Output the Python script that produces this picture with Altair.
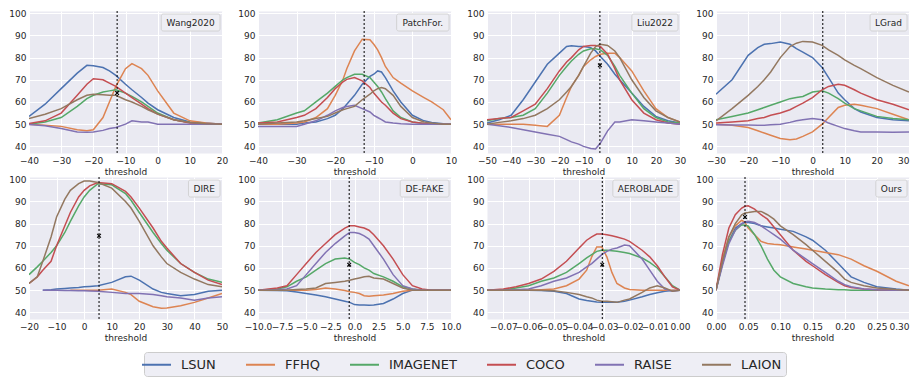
import altair as alt
import pandas as pd

DATASETS = ["LSUN", "FFHQ", "IMAGENET", "COCO", "RAISE", "LAION"]
COLORS = ["#4C72B0", "#DD8452", "#55A868", "#C44E52", "#8172B3", "#937860"]
Y_TICKS = [40, 50, 60, 70, 80, 90, 100]

# ---------------- Wang2020 ----------------
wang_x = [-40, -35, -30, -25, -22, -20, -17, -15, -13, -10, -8, -5, -3, 0, 5, 10, 15, 20]
wang = {
    "LSUN":     [53.5, 59, 66, 73, 76.5, 76.3, 75.5, 74, 72, 68, 65.5, 62, 59.5, 56.5, 53, 51, 50.5, 50],
    "FFHQ":     [50, 49.5, 49, 47.5, 47, 47.5, 53, 60, 67, 75, 77.3, 75, 72, 65, 55, 51.5, 50.5, 50],
    "IMAGENET": [50, 51, 53, 58, 61.5, 63, 64.5, 65, 65.5, 64, 62.5, 60, 58, 55, 52, 50.7, 50.2, 50],
    "COCO":     [50.3, 51.5, 55, 63, 68, 70.5, 70, 68.5, 67, 64, 62, 59, 57, 54.5, 52, 50.5, 50.2, 50],
    "RAISE":    [49.8, 49.3, 48, 46.5, 46.3, 46.5, 47.2, 48, 48.5, 50, 51.5, 51, 51, 50, 50, 50, 50, 50],
    "LAION":    [52.5, 54.5, 57, 61, 63, 63.5, 63.3, 63, 63, 61, 60, 58, 56.5, 54.5, 52, 50.7, 50.2, 50],
}

# ---------------- PatchFor. ----------------
patch_x = [-40, -35, -30, -28, -25, -22, -20, -18, -17, -15, -13, -11, -10, -9, -8, -7, -5, -3, 0, 3, 5, 8, 10]
patch = {
    "LSUN":     [50, 50, 50, 50.5, 51, 52.5, 54, 57, 59, 63, 68, 71.5, 72.5, 74, 73.5, 71, 65, 60, 54, 51.5, 50.8, 50.2, 50],
    "FFHQ":     [50, 50, 50.5, 51, 53, 57, 63, 70, 75, 83, 88.3, 88, 86, 83.5, 80, 76, 71, 68.5, 65, 62, 60, 56.5, 52],
    "IMAGENET": [50.5, 52, 55, 56, 60, 64, 67, 70, 71, 72.5, 72.5, 71, 69, 67, 64.5, 61.5, 56, 53, 51, 50.3, 50, 50, 50],
    "COCO":     [50.5, 51, 53, 54, 57, 62, 66, 69, 70.2, 71, 69.5, 66.5, 64, 62, 60, 58.5, 55, 52.5, 51, 50.3, 50, 50, 50],
    "RAISE":    [49, 49, 49, 50, 51.5, 54, 56, 57.5, 58, 58.5, 57, 55.5, 54, 53, 52, 51, 50.5, 50.2, 50, 50, 50, 50, 50],
    "LAION":    [50, 50.5, 51, 51.5, 52.5, 53.5, 55, 56.5, 57, 58, 61, 63.5, 65, 66, 66.5, 66, 63, 58, 53, 51, 50.5, 50, 50],
}

# ---------------- Liu2022 ----------------
liu_x = [-50, -45, -40, -35, -30, -25, -20, -17, -15, -12, -10, -7, -5, -3, 0, 3, 5, 10, 15, 20, 25, 30]
liu = {
    "LSUN":     [50.5, 52, 54, 61, 69, 77, 82, 85, 85.3, 85, 85, 84.5, 83, 80.5, 77, 72.5, 70, 64, 58, 53.5, 51.5, 50.5],
    "FFHQ":     [50, 50, 50, 50, 49.5, 49, 54, 62, 67, 72, 76, 79, 80.5, 81.5, 82, 82, 80, 74, 65, 57, 53, 51],
    "IMAGENET": [51.5, 52.5, 53, 54, 57, 64, 72, 76, 78.5, 81.5, 83, 84, 84, 83.5, 81, 76, 72, 64, 57, 53, 51, 50.5],
    "COCO":     [52, 52.5, 53, 56, 59, 66, 74, 78, 80, 83.5, 85, 85.5, 85.5, 85, 81.5, 75, 70, 61, 55, 52, 50.5, 50],
    "RAISE":    [50, 49.3, 48.5, 47.5, 46.5, 45.5, 44.5, 43, 42, 41, 40, 39, 38.8, 41.5, 47, 51, 51, 52, 51.5, 51, 50.5, 50],
    "LAION":    [50, 50.8, 51.5, 52.5, 54, 57, 61, 64.5, 67, 72, 76, 82, 85, 86, 85.5, 83, 80, 70, 62, 56, 53, 51],
}

# ---------------- LGrad ----------------
lgrad_x = [-30, -25, -20, -17, -15, -13, -10, -7, -5, -3, 0, 3, 5, 8, 10, 13, 15, 20, 25, 30]
lgrad = {
    "LSUN":     [63.5, 70, 81, 84.5, 86, 86.3, 87, 86, 84, 82.5, 80, 75.5, 71, 64, 61, 57, 55.5, 53, 52, 51.5],
    "FFHQ":     [50, 49.5, 48.5, 47, 46, 45, 43.5, 43, 43.3, 44.5, 46.5, 50, 53, 57.5, 58.5, 59, 58.5, 57, 54.5, 52],
    "IMAGENET": [52, 53.5, 55, 56.5, 57.5, 58.5, 60, 61.5, 62, 62.5, 64.5, 65, 64, 61.5, 59.5, 57, 56, 53.5, 52.5, 52],
    "COCO":     [50.5, 51, 51.5, 52.5, 53, 54, 55, 56.5, 58, 59.5, 62, 65.5, 67, 68, 67.5, 65.5, 64, 61, 59, 56.5],
    "RAISE":    [49.7, 49.6, 49.6, 49.5, 49.5, 49.7, 50, 50.8, 51.5, 52, 52.5, 52, 50.5, 49, 48, 47, 46.5, 46.5, 46.3, 46.5],
    "LAION":    [51.5, 57, 63, 67, 70, 73.5, 80, 85, 86.5, 87.3, 87, 85.5, 83.5, 81, 79, 76.5, 75, 71, 67.5, 64.5],
}

# ---------------- DIRE ----------------
dire_x = [-20, -17, -15, -12, -10, -7, -5, -2, 0, 2, 5, 10, 15, 17, 20, 25, 28, 30, 35, 40, 45, 50]
dire = {
    "LSUN":     [None, None, 50, 50.2, 50.5, 50.8, 51, 51.2, 51.5, 51.7, 52, 53.5, 56, 56.3, 54.5, 50.5, 49, 48.5, 47.5, 48, 49.5, 50],
    "FFHQ":     [None, None, None, None, None, None, 50, 50, 50, 50, 50, 50.5, 49, 48, 45, 42.5, 41.8, 42, 43, 44.5, 46.5, 48.5],
    "IMAGENET": [57, 60.5, 63, 67, 70, 76, 81, 88, 92, 95, 98, 97.5, 93.5, 90.5, 85, 76, 71, 68, 62, 58, 55, 53.5],
    "COCO":     [53, 56, 59, 63, 70, 79, 85, 92, 95, 97, 98.5, 98, 94.5, 92, 87, 78, 72, 69, 62, 58, 54.5, 52.5],
    "RAISE":    [None, None, 50, 50, 50, 49.9, 49.8, 49.7, 49.7, 49.6, 49.5, 49, 48.5, 48.5, 48.5, 48, 47.5, 47, 46.5, 45.5, 46.5, 47],
    "LAION":    [53, 56, 63, 74, 83, 91, 95, 98, 99.2, 99.2, 98.5, 96, 90, 87, 81, 70, 65, 62, 58, 55, 52.5, 51.5],
}

# ---------------- DE-FAKE ----------------
defake_x = [-10, -8, -7, -6, -5, -4, -3, -2, -1, -0.5, 0, 0.5, 1, 1.5, 2, 3, 4, 5, 6, 7, 8, 10]
defake = {
    "LSUN":     [50, 49.8, 49.7, 49.2, 48.5, 47.8, 47, 46, 45, 44.5, 43.5, 43.3, 43.3, 43.2, 43.3, 44, 46, 48.5, 50, 50, 50, 50],
    "FFHQ":     [50, 50, 50, 50, 50, 50.3, 51, 50.5, 49.8, 49.3, 49, 48.5, 47.5, 47.3, 47.5, 47.8, 48.5, 49.5, 50, 50, 50, 50],
    "IMAGENET": [50, 50.5, 51.5, 54, 56, 59, 62, 64, 64.5, 64, 62.5, 61.5, 60, 59, 57.5, 56, 54, 51.5, 50.5, 50, 50, 50],
    "COCO":     [50, 51, 52, 57, 62, 67, 71, 75, 78, 79, 79, 78.5, 78, 77, 75, 70, 64, 57, 52, 50.5, 50, 50],
    "RAISE":    [50, 50.2, 50.5, 52, 57, 62, 67, 71, 74.5, 76, 76, 75.5, 74.5, 73, 70, 64, 57, 52, 50.5, 50, 50, 50],
    "LAION":    [50, 50, 50, 50.3, 50.5, 51, 53, 53.5, 54, 54.5, 55, 55.5, 56, 56.3, 55.5, 55, 53, 51, 50, 50, 50, 50],
}

# ---------------- AEROBLADE ----------------
aero_x = [-0.0765, -0.07, -0.065, -0.06, -0.055, -0.05, -0.045, -0.04, -0.037, -0.035, -0.033, -0.031,
          -0.029, -0.027, -0.025, -0.022, -0.02, -0.015, -0.012, -0.009, -0.006, -0.003, 0.0]
aero = {
    "LSUN":     [50, 50, 50, 50, 49.8, 49.5, 48.5, 46, 45.3, 45, 44.7, 44.5, 44.5, 44.5, 44.5, 45, 45.5, 47, 48, 48.8, 49.5, 49.8, 50],
    "FFHQ":     [50, 50, 50, 50, 50.2, 50.5, 52, 55, 59, 65, 69.5, 69.5, 65, 58, 53, 51, 50.3, 50, 50, 50, 50, 50, 50],
    "IMAGENET": [50, 50, 51, 52, 54, 55.5, 58, 62, 64.5, 66, 67.5, 68, 68, 67.8, 67.5, 67, 66.5, 64.5, 62.5, 60, 56, 52, 50],
    "COCO":     [50, 50.5, 51.5, 53, 55, 58.5, 63, 69, 72.5, 74, 75.3, 75.3, 75, 74.5, 74, 73, 72, 68, 65, 61, 56, 51.5, 50],
    "RAISE":    [50, 50, 50.2, 50.5, 52, 54, 55.5, 58, 60.5, 62, 64, 66, 67.5, 68.5, 69, 70.3, 70, 64, 59, 54, 50.5, 49.5, 50],
    "LAION":    [50, 50, 50, 50, 50, 49.7, 49, 48, 47, 46.5, 45.5, 45, 45, 44.8, 44.5, 45.5, 46, 49, 51, 52, 51, 49.5, 50],
}

# ---------------- Ours ----------------
ours_x = [0, 0.01, 0.02, 0.03, 0.04, 0.045, 0.05, 0.06, 0.07, 0.08, 0.09, 0.1, 0.12, 0.14, 0.15,
          0.17, 0.19, 0.2, 0.21, 0.23, 0.25, 0.28, 0.3]
ours = {
    "LSUN":     [50, 62, 72, 78, 80, 80.5, 80.5, 80, 79, 78.5, 78, 77.5, 76.5, 74, 72.5, 68, 62, 59, 56, 53.5, 51.5, 50.5, 50],
    "FFHQ":     [50, 64, 74, 79, 81.5, 80.5, 78, 75, 72, 71, 70.7, 70.5, 69.5, 68.5, 68, 67, 66, 65, 64, 61, 58.5, 54, 52],
    "IMAGENET": [50, 62, 72, 77, 79.5, 79.3, 79, 75, 70, 64, 59, 56, 53, 51.5, 51, 50.5, 50.2, 50.2, 50, 50, 50, 50, 50],
    "COCO":     [50, 66, 78, 84, 87, 87.8, 88, 86.5, 84, 82, 78.5, 75, 68, 63, 61, 57, 53.5, 52, 51.2, 50.5, 50.2, 50, 50],
    "RAISE":    [50, 61, 71, 77, 80, 80.7, 81, 80.5, 79, 77, 75, 73, 68, 64, 62, 58, 54, 52.5, 51.5, 50.5, 50.2, 50, 50],
    "LAION":    [50, 63, 74, 80, 84, 84.8, 85, 85.5, 85.5, 84, 82, 79, 75, 70.5, 68, 63, 58, 55, 53.5, 52, 51, 50.3, 50],
}

# panel settings: x domain, tick values, format, threshold line, marker (x, y)
PANELS = [
    ("Wang2020", wang_x, wang, [-40, 20], [-40, -30, -20, -10, 0, 10, 20], "d", -12.6, (-12.6, 64)),
    ("PatchFor.", patch_x, patch, [-40, 10], [-40, -30, -20, -10, 0, 10], "d", -12.5, None),
    ("Liu2022", liu_x, liu, [-50, 30], [-50, -40, -30, -20, -10, 0, 10, 20, 30], "d", -3.2, (-3.2, 76.5)),
    ("LGrad", lgrad_x, lgrad, [-30, 30], [-30, -20, -10, 0, 10, 20, 30], "d", 3.2, None),
    ("DIRE", dire_x, dire, [-20, 50], [-20, -10, 0, 10, 20, 30, 40, 50], "d", 5.4, (5.4, 74.5)),
    ("DE-FAKE", defake_x, defake, [-10, 10], [-10, -7.5, -5, -2.5, 0, 2.5, 5, 7.5, 10], ".1f", -0.55, (-0.55, 61.5)),
    ("AEROBLADE", aero_x, aero, [-0.0765, 0], [-0.07, -0.06, -0.05, -0.04, -0.03, -0.02, -0.01, 0.0], ".2f", -0.0308, (-0.0308, 61.5)),
    ("Ours", ours_x, ours, [0, 0.3], [0, 0.05, 0.1, 0.15, 0.2, 0.25, 0.3], ".2f", 0.0451, (0.0451, 83)),
]

W, H = 193, 142
FONT = "DejaVu Sans"
TXT = "#262626"

CHARW = {"W": 989, "a": 613, "n": 634, "g": 635, "P": 603, "t": 392, "c": 550, "h": 634, "F": 575,
         "o": 612, "r": 411, ".": 318, "L": 557, "i": 278, "u": 634, "G": 775, "d": 635, "D": 770,
         "I": 295, "R": 695, "E": 632, "-": 361, "A": 684, "K": 656, "B": 686, "O": 787, "s": 521}


def text_w(s, size):
    return sum(CHARW.get(c, 636) for c in s) * size / 1000.0


LEGEND = alt.Legend(
    title=None, orient="none", legendX=115, legendY=341, direction="horizontal",
    symbolType="M-2,0H2", symbolSize=210, symbolStrokeWidth=2, labelFont=FONT, labelFontSize=13,
    labelColor=TXT, labelOffset=16, columnPadding=26, padding=4, fillColor="#EEEEF5",
    strokeColor="#cccccc", cornerRadius=3, labelLimit=200, offset=0,
)


def panel(name, xs, series, dom, ticks, fmt, thr, mark, last_col):
    rows = []
    for ds in DATASETS:
        for x, v in zip(xs, series[ds]):
            if v is not None:
                rows.append({"threshold": x, "value": v, "dataset": ds})
    df = pd.DataFrame(rows)
    axis_kw = dict(values=ticks, format=fmt, title="threshold", labelOverlap=False,
                   labelFlush=False, grid=True, tickCount=len(ticks), labelSeparation=0)
    if last_col:
        axis_kw["labelAlign"] = alt.ExprRef(expr=f"datum.value >= {dom[1]} ? 'right' : 'center'")
    xenc = alt.X("threshold:Q", scale=alt.Scale(domain=dom, nice=False, zero=False),
                 axis=alt.Axis(**axis_kw))
    yenc = alt.Y("value:Q", scale=alt.Scale(domain=[37, 101], nice=False, zero=False),
                 axis=alt.Axis(values=Y_TICKS, title=None, grid=True, labelOverlap=False,
                               tickCount=len(Y_TICKS)))
    lines = alt.Chart(df).mark_line(strokeWidth=1.5, clip=True).encode(
        x=xenc, y=yenc,
        color=alt.Color("dataset:N", scale=alt.Scale(domain=DATASETS, range=COLORS),
                        sort=DATASETS, legend=LEGEND),
    )
    rule = alt.Chart(pd.DataFrame({"threshold": [thr]})).mark_rule(
        color="black", strokeDash=[2, 2], strokeWidth=1).encode(
        x=alt.X("threshold:Q", axis=alt.Axis(**axis_kw)))
    layers = [lines, rule]
    if mark is not None:
        mk = alt.Chart(pd.DataFrame({"threshold": [mark[0]], "value": [mark[1]]})).mark_point(
            shape="M-1,-1L1,1M-1,1L1,-1", filled=False, size=14, color="black", strokeWidth=1.1,
            opacity=1).encode(x=alt.X("threshold:Q", axis=alt.Axis(**axis_kw)), y=yenc)
        layers.append(mk)
    bw = text_w(name, 9) + 10
    lab = pd.DataFrame({"label": [name]})
    box = alt.Chart(lab).mark_rect(fill="#EEEEF4", stroke="#cccccc", strokeWidth=0.8,
                                   cornerRadius=2).encode(
        x=alt.value(W - 2 - bw), x2=alt.value(W - 2), y=alt.value(3), y2=alt.value(20))
    txt = alt.Chart(lab).mark_text(font=FONT, fontSize=9, color=TXT).encode(
        x=alt.value(W - 2 - bw / 2), y=alt.value(11.5), text="label:N")
    layers += [box, txt]
    return alt.layer(*layers).properties(width=W, height=H)


charts = [panel(*p, last_col=(i % 4 == 3)) for i, p in enumerate(PANELS)]
chart = alt.concat(*charts, columns=4, spacing={"row": 24, "column": 36}, bounds="flush").properties(
    padding={"left": 0, "top": 0, "right": 0, "bottom": 0}
).configure_view(fill="#EAEAF2", stroke="transparent").configure_axis(
    domain=False, ticks=False, gridColor="white", gridWidth=1, labelOverlap=False,
    labelFont=FONT, labelFontSize=9, labelColor=TXT, labelPadding=3,
    titleFont=FONT, titleFontSize=9, titleFontWeight="normal", titleColor=TXT, titlePadding=2,
)

chart.save("out.html", embed_options={"renderer": "svg", "actions": False})
